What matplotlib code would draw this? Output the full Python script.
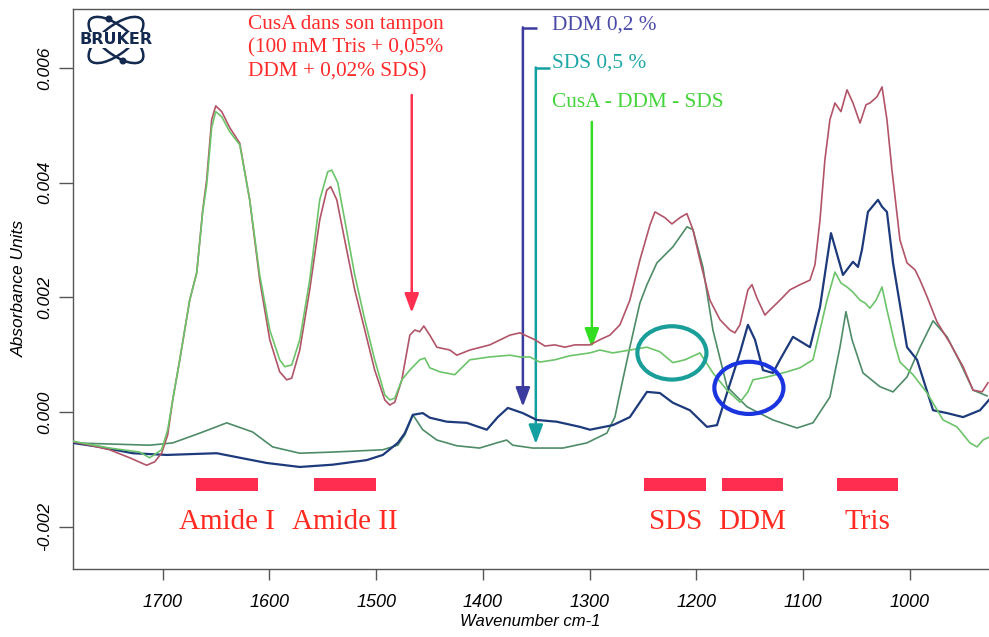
import numpy as np
import matplotlib
matplotlib.use("Agg")
import matplotlib.pyplot as plt
from matplotlib.patches import Ellipse, Rectangle, Circle
from matplotlib.font_manager import FontProperties

# ---------------- data (wavenumber cm-1, absorbance in 1e-3 units) ----------------
cusa_wn = [1784.3, 1768.4, 1749.7, 1730.9, 1715.0, 1707.5, 1701.0, 1695.3, 1690.6, 1684.0,
           1674.7, 1668.1, 1662.5, 1658.8, 1654.1, 1650.3, 1644.7, 1637.2, 1627.8, 1618.5,
           1609.1, 1599.7, 1590.4, 1583.8, 1579.1, 1571.6, 1562.3, 1552.9, 1546.3, 1542.6,
           1536.9, 1529.5, 1520.1, 1510.7, 1501.4, 1492.0, 1487.3, 1482.6, 1476.0, 1468.5,
           1463.9, 1459.2, 1455.4, 1449.8, 1443.2, 1431.0, 1424.5, 1412.3, 1393.6, 1374.8,
           1365.4, 1351.4, 1342.0, 1332.7, 1323.3, 1313.9, 1299.8, 1290.5, 1281.1, 1271.7,
           1262.4, 1253.0, 1243.6, 1238.9, 1229.6, 1223.0, 1215.5, 1209.0, 1203.3, 1196.8,
           1187.4, 1178.0, 1168.7, 1164.0, 1159.3, 1151.8, 1148.0, 1143.4, 1135.9, 1131.2,
           1121.8, 1112.5, 1103.1, 1093.7, 1089.0, 1084.3, 1079.7, 1075.0, 1070.3, 1064.7,
           1059.0, 1053.4, 1046.8, 1041.2, 1037.5, 1030.9, 1026.2, 1021.6, 1016.9, 1009.4,
           1002.8, 995.3, 990.6, 984.0, 974.7, 962.5, 950.3, 940.9, 932.5, 926.9]
cusa_abs = [-0.52, -0.58, -0.66, -0.80, -0.93, -0.87, -0.72, -0.40, 0.21, 0.91,
            1.95, 2.43, 3.52, 4.05, 5.10, 5.34, 5.24, 4.96, 4.69, 3.70,
            2.30, 1.26, 0.70, 0.56, 0.59, 1.08, 2.13, 3.35, 3.87, 3.93,
            3.70, 3.00, 2.13, 1.43, 0.73, 0.21, 0.12, 0.17, 0.56, 1.34,
            1.43, 1.40, 1.50, 1.34, 1.13, 1.08, 0.99, 1.08, 1.17, 1.34,
            1.38, 1.26, 1.15, 1.17, 1.13, 1.17, 1.17, 1.26, 1.34, 1.52,
            1.95, 2.65, 3.26, 3.49, 3.39, 3.28, 3.39, 3.46, 3.18, 2.65,
            1.95, 1.61, 1.43, 1.38, 1.52, 2.13, 2.22, 1.99, 1.69, 1.78,
            1.95, 2.13, 2.22, 2.30, 2.57, 3.35, 4.40, 5.10, 5.39, 5.24,
            5.62, 5.39, 5.04, 5.36, 5.39, 5.50, 5.67, 5.10, 4.22, 3.00,
            2.60, 2.48, 2.30, 2.01, 1.57, 1.20, 0.79, 0.38, 0.35, 0.51]

diff_wn = [1784.3, 1749.7, 1721.6, 1712.2, 1701.0, 1695.3, 1690.6, 1684.0, 1674.7, 1668.1,
           1662.5, 1658.8, 1654.1, 1650.3, 1644.7, 1637.2, 1627.8, 1618.5, 1609.1, 1599.7,
           1590.4, 1585.7, 1579.1, 1571.6, 1562.3, 1552.9, 1545.4, 1541.6, 1536.0, 1529.5,
           1520.1, 1510.7, 1501.4, 1492.0, 1487.3, 1482.6, 1476.0, 1468.5, 1463.9, 1459.2,
           1454.5, 1449.8, 1440.4, 1426.4, 1412.3, 1393.6, 1374.8, 1365.4, 1356.1, 1346.7,
           1332.7, 1318.6, 1299.8, 1290.5, 1278.3, 1262.4, 1246.4, 1234.3, 1222.1, 1210.8,
           1196.8, 1184.6, 1171.4, 1159.3, 1151.8, 1147.1, 1133.9, 1115.2, 1103.1, 1090.9,
           1084.3, 1077.8, 1070.3, 1064.7, 1059.0, 1053.4, 1046.8, 1042.1, 1037.5, 1031.8,
           1026.2, 1021.6, 1018.7, 1014.0, 1009.4, 997.2, 984.0, 969.0, 956.0, 943.8,
           937.2, 931.6, 926.0]
diff_abs = [-0.51, -0.63, -0.70, -0.80, -0.66, -0.31, 0.21, 0.91, 1.95, 2.43,
            3.49, 3.96, 4.96, 5.24, 5.15, 4.89, 4.66, 3.70, 2.39, 1.43,
            0.91, 0.79, 0.82, 1.26, 2.30, 3.70, 4.19, 4.22, 4.00, 3.35,
            2.39, 1.61, 0.91, 0.30, 0.21, 0.24, 0.56, 0.73, 0.82, 0.91,
            0.94, 0.77, 0.70, 0.65, 0.91, 0.96, 0.99, 0.96, 0.96, 0.87,
            0.91, 0.98, 1.03, 1.08, 1.03, 1.08, 1.13, 1.05, 0.86, 0.91,
            1.03, 0.68, 0.38, 0.17, 0.35, 0.56, 0.61, 0.70, 0.77, 0.91,
            1.43, 1.95, 2.44, 2.25, 2.18, 2.09, 1.95, 1.90, 1.81, 1.95,
            2.18, 1.78, 1.55, 1.17, 0.87, 0.65, 0.33, -0.14, -0.26, -0.54,
            -0.61, -0.49, -0.44]

ddm_wn = [1784.3, 1759.0, 1728.1, 1696.2, 1649.4, 1602.6, 1571.6, 1540.7, 1508.8, 1493.8,
          1479.8, 1473.2, 1465.7, 1456.4, 1449.8, 1433.9, 1415.2, 1396.4, 1386.1, 1376.7,
          1362.7, 1349.5, 1331.0, 1309.2, 1299.8, 1278.3, 1262.4, 1246.4, 1234.3, 1222.1,
          1206.2, 1190.2, 1180.8, 1171.4, 1159.3, 1151.8, 1145.2, 1137.7, 1128.4, 1121.8,
          1109.6, 1093.7, 1084.3, 1074.0, 1062.8, 1053.4, 1048.7, 1045.0, 1039.4, 1030.0,
          1026.2, 1021.6, 1015.9, 1002.8, 993.4, 978.4, 965.3, 950.3, 934.4, 926.0]
ddm_abs = [-0.54, -0.61, -0.72, -0.75, -0.72, -0.89, -0.96, -0.92, -0.84, -0.75,
           -0.54, -0.37, -0.05, -0.02, -0.10, -0.17, -0.19, -0.31, -0.09, 0.07,
           -0.02, -0.14, -0.17, -0.26, -0.31, -0.23, -0.09, 0.35, 0.33, 0.16,
           0.03, -0.26, -0.23, 0.33, 1.03, 1.52, 1.26, 0.73, 0.68, 0.91,
           1.31, 1.13, 1.83, 3.12, 2.39, 2.62, 2.53, 2.83, 3.49, 3.70,
           3.58, 3.49, 2.60, 1.13, 0.91, 0.03, -0.02, -0.09, 0.03, 0.21]

sds_wn = [1784.3, 1712.2, 1690.6, 1665.3, 1640.0, 1615.7, 1597.0, 1571.6, 1540.7, 1493.8,
          1479.8, 1473.2, 1465.7, 1456.4, 1443.2, 1424.5, 1403.2, 1387.2, 1377.8, 1372.1,
          1353.4, 1325.2, 1302.7, 1284.0, 1276.4, 1271.7, 1262.4, 1253.0, 1246.4, 1237.1,
          1222.1, 1208.9, 1203.3, 1194.0, 1184.6, 1171.4, 1152.7, 1128.4, 1105.9, 1090.9,
          1075.0, 1065.6, 1060.0, 1054.3, 1044.0, 1028.1, 1015.9, 1002.8, 990.6, 978.4,
          965.3, 953.0, 940.9, 927.8]
sds_abs = [-0.54, -0.58, -0.54, -0.37, -0.19, -0.35, -0.61, -0.72, -0.70, -0.66,
           -0.58, -0.40, -0.05, -0.31, -0.49, -0.59, -0.63, -0.54, -0.49, -0.58,
           -0.63, -0.63, -0.54, -0.37, -0.09, 0.33, 1.13, 1.90, 2.22, 2.60,
           2.88, 3.23, 3.18, 2.53, 1.43, 0.44, 0.09, -0.14, -0.28, -0.19,
           0.26, 1.13, 1.75, 1.26, 0.68, 0.44, 0.35, 0.61, 1.13, 1.59,
           1.31, 0.86, 0.38, 0.28]

band_labels = ["Amide I", "Amide II", "SDS", "DDM", "Tris"]
band_start = [1669, 1558, 1249, 1176, 1068]
band_end = [1611, 1500, 1191, 1119, 1011]

x_ticks = [1700, 1600, 1500, 1400, 1300, 1200, 1100, 1000]
y_ticks = [-0.002, 0.000, 0.002, 0.004, 0.006]

# ---------------- figure ----------------
W, H = 989, 637
fig = plt.figure(figsize=(W / 100, H / 100), dpi=100)
ax = fig.add_axes([73 / W, 1 - 569 / H, (W - 73) / W, (569 - 9) / H])

sc = 1e-3
ax.plot(sds_wn, np.array(sds_abs) * sc, color="#4e8c68", lw=1.2, zorder=3)
ax.plot(ddm_wn, np.array(ddm_abs) * sc, color="#1d3a7c", lw=1.6, zorder=4)
ax.plot(cusa_wn, np.array(cusa_abs) * sc, color="#b25468", lw=1.2, zorder=5)
ax.plot(diff_wn, np.array(diff_abs) * sc, color="#6cc46a", lw=1.2, zorder=6)

ax.set_xlim(1784, 926)
ax.set_ylim(-0.00274, 0.00703)
ax.set_xticks(x_ticks)
ax.set_yticks(y_ticks)
ax.set_yticklabels([f"{v:.3f}" for v in y_ticks])

for s in ["left", "bottom", "top"]:
    ax.spines[s].set_color("#555555")
    ax.spines[s].set_linewidth(1.0)
ax.spines["right"].set_visible(False)

tick_fp = FontProperties(family="Liberation Sans", style="italic", size=13)
ax.tick_params(axis="x", direction="out", length=8, width=1, color="#555555", pad=10)
ax.tick_params(axis="y", direction="out", length=10, width=1, color="#555555", pad=5)
for lab in ax.get_xticklabels():
    lab.set_fontproperties(tick_fp)
for lab in ax.get_yticklabels():
    lab.set_fontproperties(FontProperties(family="Liberation Sans", style="italic", size=12.5))
    lab.set_rotation(90)
    lab.set_va("center")

fig.text(530 / W, 1 - 622 / H, "Wavenumber cm-1", ha="center", va="center",
         family="Liberation Sans", style="italic", size=12)
fig.text(19 / W, 1 - 288 / H, "Absorbance Units", ha="center", va="center", rotation=90,
         family="Liberation Sans", style="italic", size=12.5)

# ---------------- band bars and labels ----------------
bar_col = "#ff2d50"
for lab, a, b in zip(band_labels, band_start, band_end):
    ax.add_patch(Rectangle((b, -1.38e-3), a - b, 0.23e-3, color=bar_col, lw=0, zorder=7))
    ax.text((a + b) / 2, -1.92e-3, lab, ha="center", va="center", color="#ff2a22",
            family="Liberation Serif", size=21)

# ---------------- annotations ----------------
serif = "Liberation Serif"
ax.text(1620.4, 6.92e-3, "CusA dans son tampon\n(100 mM Tris + 0,05%\nDDM + 0,02% SDS)",
        ha="left", va="top", color="#ff2a2a", family=serif, size=15.3, linespacing=1.3, zorder=8)
ax.annotate("", xy=(1466.7, 1.73e-3), xytext=(1466.7, 5.53e-3),
            arrowprops=dict(arrowstyle="-|>,head_length=1.15,head_width=0.43", color="#ff3050", lw=1.8,
                            shrinkA=0, shrinkB=0))

ax.text(1335.5, 6.75e-3, "DDM 0,2 %", ha="left", va="center", color="#4a4aa8", family=serif, size=15.3)
ax.plot([1362.6, 1349.5], [6.70e-3, 6.70e-3], color="#3c3ca0", lw=1.8, solid_capstyle="butt")
ax.annotate("", xy=(1362.6, 0.09e-3), xytext=(1362.6, 6.71e-3),
            arrowprops=dict(arrowstyle="-|>,head_length=1.15,head_width=0.43", color="#3c3ca0", lw=1.8,
                            shrinkA=0, shrinkB=0))

ax.text(1335.5, 6.08e-3, "SDS 0,5 %", ha="left", va="center", color="#1fa6a6", family=serif, size=15.3)
ax.plot([1350.5, 1337.3], [6.00e-3, 6.00e-3], color="#14a0a0", lw=1.8, solid_capstyle="butt")
ax.annotate("", xy=(1350.5, -0.56e-3), xytext=(1350.5, 6.01e-3),
            arrowprops=dict(arrowstyle="-|>,head_length=1.15,head_width=0.43", color="#14a0a0", lw=1.8,
                            shrinkA=0, shrinkB=0))

ax.text(1335.5, 5.40e-3, "CusA - DDM - SDS", ha="left", va="center", color="#44d43a", family=serif, size=15.3)
ax.annotate("", xy=(1298.0, 1.12e-3), xytext=(1298.0, 5.06e-3),
            arrowprops=dict(arrowstyle="-|>,head_length=1.15,head_width=0.43", color="#33dd22", lw=1.8,
                            shrinkA=0, shrinkB=0))

# ellipses highlighting regions
ax.add_patch(Ellipse((1223.0, 1.03e-3), 64.7, 0.93e-3, fill=False, ec="#1a9e9a", lw=3, zorder=9))
ax.add_patch(Ellipse((1150.9, 0.42e-3), 64.7, 0.91e-3, fill=False, ec="#1a35e0", lw=3, zorder=9))

# ---------------- BRUKER logo ----------------
logo_c = "#13294f"
cx, cy = 116 / 100, (H - 40) / 100
for ang in (38, -38):
    fig.add_artist(Ellipse((cx, cy), 0.66, 0.28, angle=ang, fill=False, ec=logo_c, lw=1.8,
                           transform=fig.dpi_scale_trans))
for dx, dy in ((-0.07, 0.21), (0.07, -0.21)):
    fig.add_artist(Circle((cx + dx, cy + dy), 0.028, color=logo_c, transform=fig.dpi_scale_trans))
fig.text(cx / (W / 100), cy / (H / 100), "BRUKER", ha="center", va="center",
         family="DejaVu Sans", weight="bold", size=11.5, color=logo_c,
         bbox=dict(fc="white", ec="none", pad=0.3))

fig.savefig("out.png", dpi=100)
